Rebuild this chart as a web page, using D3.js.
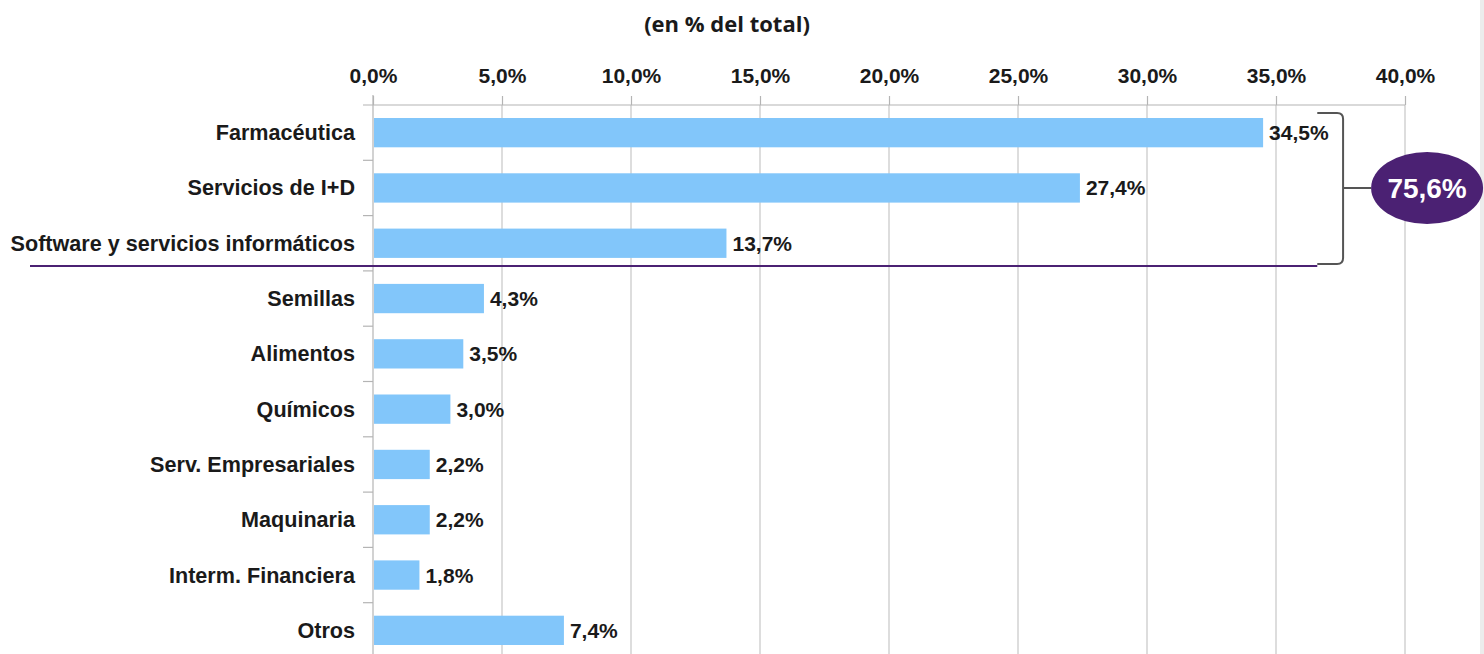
<!DOCTYPE html>
<html>
<head>
<meta charset="utf-8">
<script src="https://cdn.jsdelivr.net/npm/d3@7"></script>
<style>
  body { margin: 0; background: #fff; }
  svg { display: block; }
  text { font-family: "Liberation Sans", Arial, sans-serif; font-weight: bold; fill: #1a1a1a; }
</style>
</head>
<body>
<div id="chart"></div>
<script>
// data
const categories = [
  "Farmacéutica", "Servicios de I+D", "Software y servicios informáticos",
  "Semillas", "Alimentos", "Químicos", "Serv. Empresariales",
  "Maquinaria", "Interm. Financiera", "Otros"
];
const values = [34.5, 27.4, 13.7, 4.3, 3.5, 3.0, 2.2, 2.2, 1.8, 7.4];
const xTicks = [0, 5, 10, 15, 20, 25, 30, 35, 40];
const groupCount = 3;          // first three categories are bracketed
const groupTotal = "75,6%";
const title = "(en % del total)";

const W = 1484, H = 654;
const margin = { LEFT: 373, TOP: 105 };

const svg = d3.select("#chart").append("svg")
  .attr("width", W)
  .attr("height", H);

const esLocale = d3.formatLocale({ decimal: ",", thousands: ".", grouping: [3], currency: ["", "€"] });
const fmt = v => esLocale.format(".1f")(v) + "%";

// scales
const x = d3.scaleLinear().domain([0, 40]).range([margin.LEFT, 1405]);
const y = d3.scaleBand().domain(categories).range([margin.TOP, 658])
  .paddingInner(0.47).paddingOuter(0.235);
const yStep = y.step();

// right edge strip
svg.append("rect")
  .attr("x", 1480).attr("y", 0).attr("width", 4).attr("height", H)
  .attr("fill", "#ececec");

// title
svg.append("text")
  .attr("x", 727).attr("y", 32)
  .attr("text-anchor", "middle")
  .style("font-family", "'Open Sans', sans-serif")
  .attr("font-size", "22px")
  .text(title);

// gridlines
svg.append("g")
  .selectAll("line")
  .data(xTicks.slice(1))
  .join("line")
  .attr("x1", d => x(d)).attr("x2", d => x(d))
  .attr("y1", margin.TOP).attr("y2", H)
  .attr("stroke", "#c6c6c6").attr("stroke-width", 1.2);

// top axis
const xAxis = svg.append("g")
  .attr("transform", `translate(0, ${margin.TOP})`)
  .call(d3.axisTop(x).tickValues(xTicks).tickFormat(fmt).tickSize(9).tickPadding(13));
xAxis.select(".domain").remove();
xAxis.selectAll(".tick line").attr("stroke", "#b4b4b4").attr("stroke-width", 1.2);
xAxis.selectAll(".tick text").attr("font-size", "21px").attr("fill", "#1a1a1a")
  .style("font-family", "'Liberation Sans', Arial, sans-serif").style("font-weight", "bold");
svg.append("line")
  .attr("x1", x(0) - 10).attr("x2", x(40))
  .attr("y1", margin.TOP).attr("y2", margin.TOP)
  .attr("stroke", "#b4b4b4").attr("stroke-width", 1.2);

// left axis with ticks at band boundaries
svg.append("line")
  .attr("x1", x(0)).attr("x2", x(0))
  .attr("y1", margin.TOP - 10).attr("y2", H)
  .attr("stroke", "#b4b4b4").attr("stroke-width", 1.2);
const boundary = d => y(d) - (yStep - y.bandwidth()) / 2;
svg.append("g")
  .selectAll("line")
  .data(categories.slice(1))
  .join("line")
  .attr("x1", x(0) - 10).attr("x2", x(0))
  .attr("y1", boundary)
  .attr("y2", boundary)
  .attr("stroke", "#b4b4b4").attr("stroke-width", 1.2);

// category labels
svg.append("g")
  .selectAll("text")
  .data(categories)
  .join("text")
  .attr("x", x(0) - 18)
  .attr("y", d => y(d) + y.bandwidth() / 2 + 7.5)
  .attr("text-anchor", "end")
  .attr("font-size", "21.6px")
  .text(d => d);

// bars
svg.append("g")
  .selectAll("rect")
  .data(values)
  .join("rect")
  .attr("x", x(0) + 1)
  .attr("y", (d, i) => y(categories[i]))
  .attr("width", d => x(d) - x(0) - 1)
  .attr("height", y.bandwidth())
  .attr("fill", "#82c6fa");

// value labels
svg.append("g")
  .selectAll("text")
  .data(values)
  .join("text")
  .attr("x", d => x(d) + 6)
  .attr("y", (d, i) => y(categories[i]) + y.bandwidth() / 2 + 7.5)
  .attr("font-size", "21px")
  .text(d => fmt(d));

// separator line under the top group
const sepY = y(categories[groupCount - 1]) + y.bandwidth() + 8;
const brX0 = x(36.6), brX1 = x(37.6);
svg.append("line")
  .attr("x1", 30).attr("x2", brX0)
  .attr("y1", sepY).attr("y2", sepY)
  .attr("stroke", "#4b2173").attr("stroke-width", 2);

// bracket
const brTop = y(categories[0]) - 5;
const brMid = y(categories[1]) + y.bandwidth() / 2;
const r = 6;
svg.append("path")
  .attr("d", `M${brX0},${brTop} L${brX1 - r},${brTop} Q${brX1},${brTop} ${brX1},${brTop + r}
    L${brX1},${sepY - 2 - r} Q${brX1},${sepY - 2} ${brX1 - r},${sepY - 2} L${brX0},${sepY - 2}
    M${brX1},${brMid} L${brX1 + 28},${brMid}`)
  .attr("fill", "none")
  .attr("stroke", "#555").attr("stroke-width", 2);

// total bubble
const bubbleX = brX1 + 28 + 56;
svg.append("ellipse")
  .attr("cx", bubbleX).attr("cy", brMid)
  .attr("rx", 56).attr("ry", 36)
  .attr("fill", "#4b2173");
svg.append("text")
  .attr("x", bubbleX).attr("y", brMid + 10)
  .attr("text-anchor", "middle")
  .attr("font-size", "28px")
  .style("fill", "#fff")
  .text(groupTotal);
</script>
</body>
</html>
